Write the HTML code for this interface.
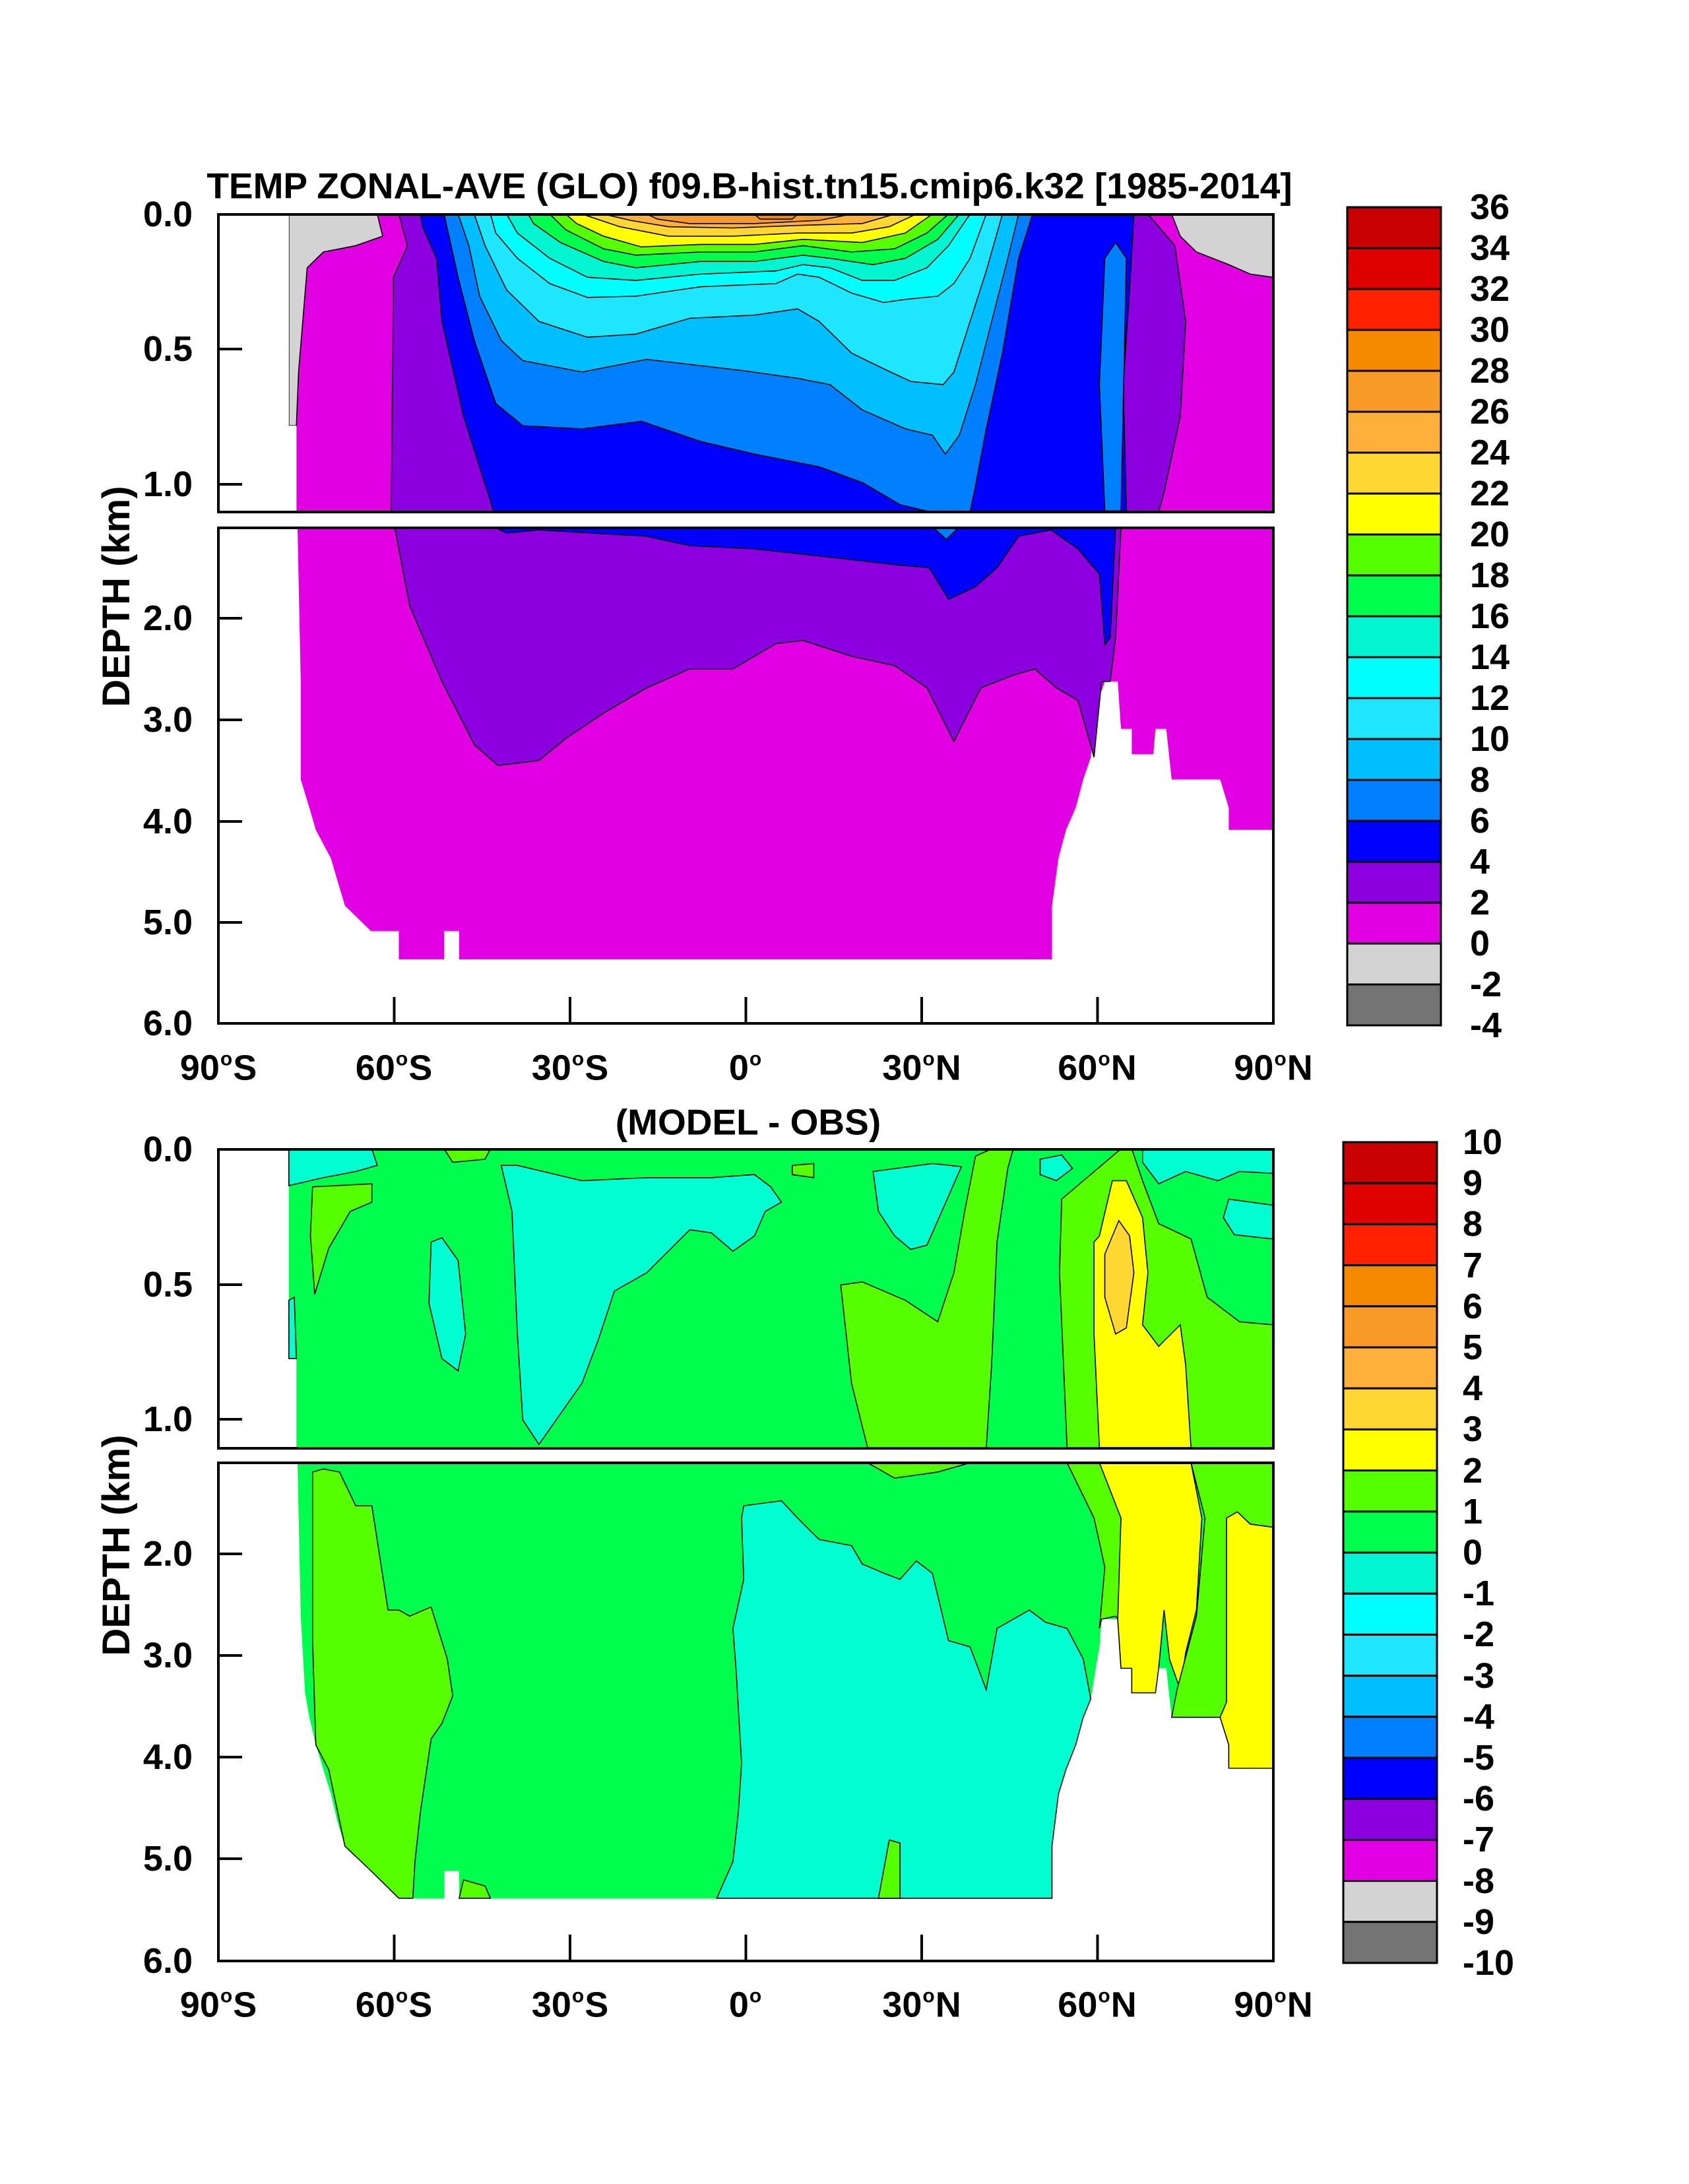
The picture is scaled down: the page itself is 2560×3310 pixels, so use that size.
<!DOCTYPE html>
<html><head><meta charset="utf-8">
<style>
body{margin:0;background:#fff;}
#pg{position:relative;width:2560px;height:3310px;overflow:hidden;background:#fff;font-family:"Liberation Sans",Arial,sans-serif;font-weight:bold;color:#000;}
.t{position:absolute;white-space:nowrap;line-height:1;}
.yl{font-size:54px;width:150px;text-align:right;left:142px;transform:translateY(-50%);}
.xl{font-size:54px;width:240px;text-align:center;transform:translate(-50%,-50%);}
.xl sup{font-size:30px;vertical-align:22px;margin:0 1px;}
.cl{font-size:54px;left:2228px;transform:translateY(-50%);}
.cl2{font-size:54px;left:2217px;transform:translateY(-50%);}
svg{position:absolute;}
</style></head><body><div id="pg">

<!-- TOP PANEL DATA -->
<svg style="left:0;top:200px;width:2560px;height:1500px" viewBox="0 0 1567 1567" preserveAspectRatio="none">
<defs>
<clipPath id="c1"><rect x="202" y="130" width="979" height="471"/></clipPath>
<clipPath id="c2"><rect x="202" y="625" width="979" height="786"/></clipPath>
</defs>
<g clip-path="url(#c1)" stroke="#000" stroke-width="1.6" vector-effect="non-scaling-stroke">
<rect x="275" y="130" width="906" height="471" fill="#e100e1" stroke="none"/>
<path fill="#d3d3d3" vector-effect="non-scaling-stroke" d="M268,130L350,130L355,165L330,180L300,190L285,215L277,380L275,465L268,465Z"/>
<path fill="#d3d3d3" vector-effect="non-scaling-stroke" d="M1087,130L1181,130L1181,230L1160,225L1140,210L1110,190L1095,165Z"/>
<path fill="#8c00e0" vector-effect="non-scaling-stroke" d="M370,130L1065,130L1090,180L1100,300L1095,450L1080,570L1075,601L363,601L365,230L378,180Z"/>
<path fill="#0000ff" vector-effect="non-scaling-stroke" d="M390,130L1052,130L1048,250L1042,400L1045,601L458,601L430,450L410,300L405,200L392,150Z"/>
<path fill="#0080ff" vector-effect="non-scaling-stroke" d="M1025,200L1035,175L1045,200L1040,600L1025,600L1020,400Z"/>
<path fill="#0080ff" vector-effect="non-scaling-stroke" d="M412,130L958,130L945,200L930,350L915,470L905,560L900,601L862,601L835,590L800,555L760,530L700,510L650,490L595,458L540,470L485,465L460,430L440,330L425,230Z"/>
<path fill="#00bfff" vector-effect="non-scaling-stroke" d="M425,130L945,130L935,200L920,300L905,400L890,480L877,510L865,480L840,470L800,440L770,400L740,390L690,378L600,360L540,380L485,362L465,330L445,260L435,180Z"/>
<path fill="#1ee6ff" vector-effect="non-scaling-stroke" d="M440,130L930,130L915,220L900,300L885,380L875,400L845,395L820,375L790,350L760,300L740,280L700,290L640,295L590,320L545,325L500,300L470,250L450,180Z"/>
<path fill="#00ffff" vector-effect="non-scaling-stroke" d="M455,130L915,130L900,200L885,240L870,260L840,265L820,270L790,255L760,230L740,225L720,240L650,245L590,260L545,262L510,240L480,200L460,160Z"/>
<path fill="#00f5d0" vector-effect="non-scaling-stroke" d="M470,130L900,130L880,180L860,215L830,235L800,235L770,215L745,210L720,220L650,225L590,235L545,230L510,200L480,160Z"/>
<path fill="#00ff4c" vector-effect="non-scaling-stroke" d="M490,130L890,130L870,170L840,200L810,210L770,200L745,195L700,205L650,205L590,215L560,205L520,175L495,145Z"/>
<path fill="#55ff00" vector-effect="non-scaling-stroke" d="M510,130L880,130L860,160L830,185L790,190L745,180L700,190L650,190L590,195L560,185L525,155Z"/>
<path fill="#ffff00" vector-effect="non-scaling-stroke" d="M525,130L865,130L840,160L800,175L745,170L700,178L650,178L595,182L560,165L535,145Z"/>
<path fill="#ffd730" vector-effect="non-scaling-stroke" d="M540,130L850,130L825,150L790,160L740,160L680,165L620,165L575,150Z"/>
<path fill="#ffb03a" vector-effect="non-scaling-stroke" d="M560,130L830,130L800,145L740,148L680,152L620,150L585,140Z"/>
<path fill="#fa9a26" vector-effect="non-scaling-stroke" d="M600,130L790,130L760,140L700,145L640,145L610,138Z"/>
<path fill="#f58a00" vector-effect="non-scaling-stroke" d="M700,130L740,130L735,138L705,138Z"/>
<rect x="202" y="130" width="66" height="471" fill="#fff" stroke="none"/>
<rect x="268" y="465" width="7" height="136" fill="#fff" stroke="none"/>
</g>
<g clip-path="url(#c2)" stroke="#000" stroke-width="1.6">
<path fill="#e100e1" stroke="none" d="M276,625L1181,625L1181,1105L1140,1105L1140,1070L1132,1025L1087,1025L1082,945L1072,945L1070,985L1050,985L1050,945L1040,945L1037,870L1025,870L1017,910L1012,990L1005,1025L998,1070L989,1105L982,1150L976,1225L976,1310L426,1310L426,1265L412,1265L412,1310L370,1310L370,1265L344,1265L320,1225L313,1185L307,1150L293,1105L287,1070L279,1025L279,870Z"/>
<path fill="#8c00e0" vector-effect="non-scaling-stroke" d="M366,625L1040,625L1035,800L1030,870L1022,870L1015,990L1000,900L980,880L960,850L940,860L910,880L885,965L860,880L830,845L790,830L745,805L720,810L680,850L640,850L600,880L560,920L525,960L500,995L462,1003L440,970L410,870L380,750Z"/>
<path fill="#0000ff" vector-effect="non-scaling-stroke" d="M458,625L1035,625L1030,800L1025,812L1020,700L1000,660L975,630L945,640L925,690L905,720L880,740L862,690L830,685L780,675L700,660L640,655L600,640L500,630L470,635Z"/>
<path fill="#0080ff" vector-effect="non-scaling-stroke" d="M865,625L890,625L878,645Z"/>
</g>
</svg>

<!-- BOTTOM PANEL DATA -->
<svg style="left:0;top:1650px;width:2560px;height:1450px" viewBox="0 0 1567 1560" preserveAspectRatio="none">
<defs>
<clipPath id="c3"><rect x="202" y="98" width="979" height="488"/></clipPath>
<clipPath id="c4"><rect x="202" y="610" width="979" height="812"/></clipPath>
</defs>
<g clip-path="url(#c3)" stroke="#000" stroke-width="1.6">
<path fill="#00ff4c" stroke="none" d="M268,98L1181,98L1181,586L275,586L275,440L268,440Z"/>
<path fill="#00ffd0" vector-effect="non-scaling-stroke" d="M268,98L345,98L350,125L330,135L300,145L268,158Z"/>
<path fill="#00ffd0" vector-effect="non-scaling-stroke" d="M268,345L273,340L275,440L268,440Z"/>
<path fill="#00ffd0" vector-effect="non-scaling-stroke" d="M465,125L480,125L540,150L600,145L660,145L700,140L715,160L725,185L710,200L700,240L680,265L660,235L640,230L600,300L570,330L555,410L540,480L500,580L485,540L480,400L475,200Z"/>
<path fill="#00ffd0" vector-effect="non-scaling-stroke" d="M400,250L410,243L425,280L432,400L425,460L410,440L398,350Z"/>
<path fill="#00ffd0" vector-effect="non-scaling-stroke" d="M810,135L865,122L892,127L880,175L860,255L845,262L830,240L815,200Z"/>
<path fill="#00ffd0" vector-effect="non-scaling-stroke" d="M1060,98L1181,98L1181,138L1150,135L1130,150L1100,135L1075,155L1060,120Z"/>
<path fill="#00ffd0" vector-effect="non-scaling-stroke" d="M1140,180L1181,190L1181,245L1145,238L1135,210Z"/>
<path fill="#00ffd0" vector-effect="non-scaling-stroke" d="M965,115L985,108L995,130L980,150L965,140Z"/>
<path fill="#55ff00" vector-effect="non-scaling-stroke" d="M290,160L345,155L345,185L325,200L305,260L292,335L288,240Z"/>
<path fill="#55ff00" vector-effect="non-scaling-stroke" d="M412,98L455,98L450,115L420,120Z"/>
<path fill="#55ff00" vector-effect="non-scaling-stroke" d="M735,125L755,122L755,145L735,140Z"/>
<path fill="#55ff00" vector-effect="non-scaling-stroke" d="M780,320L800,315L840,345L870,380L885,300L895,200L905,110L920,98L940,98L935,130L925,250L920,450L915,586L805,586L790,480Z"/>
<path fill="#55ff00" vector-effect="non-scaling-stroke" d="M985,180L1040,98L1050,98L1060,150L1075,220L1105,245L1120,340L1150,380L1181,385L1181,586L990,586L983,300Z"/>
<path fill="#ffff00" vector-effect="non-scaling-stroke" d="M1020,240L1032,150L1045,150L1060,210L1065,300L1060,385L1075,420L1095,385L1100,450L1105,586L1020,586L1015,400L1015,250Z"/>
<path fill="#ffd730" vector-effect="non-scaling-stroke" d="M1025,270L1038,215L1048,240L1052,300L1045,390L1035,400L1025,340Z"/>
</g>
<g clip-path="url(#c4)" stroke="#000" stroke-width="1.6">
<path fill="#00ff4c" stroke="none" d="M276,610L1181,610L1181,1108L1140,1108L1140,1070L1132,1025L1087,1025L1082,945L1072,945L1070,985L1050,985L1050,945L1040,945L1037,865L1022,865L1020,910L1017,940L1012,995L1005,1025L998,1070L989,1110L982,1150L976,1235L976,1320L426,1320L426,1275L412,1275L412,1320L370,1320L344,1275L320,1235L313,1195L307,1150L300,1110L293,1070L287,1025L283,985L279,860Z"/>
<path fill="#55ff00" vector-effect="non-scaling-stroke" d="M290,625L300,620L315,625L330,680L345,680L360,850L370,850L380,860L400,845L415,930L420,990L410,1035L400,1060L390,1180L385,1260L383,1320L370,1320L344,1275L320,1235L305,1110L293,1070L290,900Z"/>
<path fill="#00ffd0" vector-effect="non-scaling-stroke" d="M690,680L725,672L740,700L760,735L790,745L800,775L820,790L835,800L850,770L865,790L880,900L900,910L915,980L925,880L955,850L970,870L990,880L1005,930L1012,995L1005,1025L998,1070L989,1110L982,1150L976,1235L976,1320L665,1320L680,1260L685,1180L688,1100L683,950L680,880L690,800L688,700Z"/>
<path fill="#55ff00" vector-effect="non-scaling-stroke" d="M815,1320L825,1225L835,1230L835,1320Z"/>
<path fill="#55ff00" vector-effect="non-scaling-stroke" d="M990,610L1025,610L1040,700L1040,870L1035,860L1022,865L1020,880L1025,780L1015,700Z"/>
<path fill="#ffff00" vector-effect="non-scaling-stroke" d="M1020,610L1105,610L1115,700L1110,850L1100,920L1095,980L1085,930L1080,850L1075,945L1072,985L1050,985L1050,945L1040,945L1037,865L1040,700Z"/>
<path fill="#55ff00" vector-effect="non-scaling-stroke" d="M1105,610L1181,610L1181,715L1160,710L1148,690L1138,700L1138,1020L1132,1025L1087,1025L1092,980L1110,860L1118,700Z"/>
<path fill="#ffff00" vector-effect="non-scaling-stroke" d="M1138,700L1148,690L1160,710L1181,715L1181,1108L1140,1108L1140,1070L1132,1025L1138,1000Z"/>
<path fill="#55ff00" vector-effect="non-scaling-stroke" d="M426,1320L430,1290L450,1300L455,1320Z"/>
<path fill="#55ff00" vector-effect="non-scaling-stroke" d="M805,610L900,610L870,625L830,635Z"/>
</g>
</svg>

<!-- FRAMES, TICKS, COLORBARS (pixel coords) -->
<svg style="left:0;top:0;width:2560px;height:3310px" viewBox="0 0 2560 3310">
<g fill="none" stroke="#000" stroke-width="4">
<rect x="331" y="325" width="1599" height="451"/>
<rect x="331" y="800" width="1599" height="751"/>
<rect x="331" y="1742" width="1599" height="453"/>
<rect x="331" y="2217" width="1599" height="755"/>
</g>
<g stroke="#000" stroke-width="4">
<path d="M331,325h36M331,529h36M331,734h36M331,937h36M331,1091h36M331,1245h36M331,1398h36M331,1551h36"/>
<path d="M597.5,1551v-40M864,1551v-40M1130.5,1551v-40M1397,1551v-40M1663.5,1551v-40"/>
<path d="M331,1742h36M331,1947h36M331,2151h36M331,2355h36M331,2509h36M331,2663h36M331,2817h36M331,2972h36"/>
<path d="M597.5,2972v-40M864,2972v-40M1130.5,2972v-40M1397,2972v-40M1663.5,2972v-40"/>
</g>
<g stroke="#000" stroke-width="3">
<rect x="2042" y="314" width="142" height="62" fill="#c80000"/>
<rect x="2042" y="376" width="142" height="62" fill="#e00000"/>
<rect x="2042" y="438" width="142" height="62" fill="#ff2000"/>
<rect x="2042" y="500" width="142" height="62" fill="#f58a00"/>
<rect x="2042" y="562" width="142" height="62" fill="#fa9a26"/>
<rect x="2042" y="624" width="142" height="62" fill="#ffb03a"/>
<rect x="2042" y="686" width="142" height="62" fill="#ffd730"/>
<rect x="2042" y="748" width="142" height="62" fill="#ffff00"/>
<rect x="2042" y="810" width="142" height="62" fill="#55ff00"/>
<rect x="2042" y="872" width="142" height="62" fill="#00ff4c"/>
<rect x="2042" y="934" width="142" height="62" fill="#00f5d0"/>
<rect x="2042" y="996" width="142" height="62" fill="#00ffff"/>
<rect x="2042" y="1058" width="142" height="62" fill="#1ee6ff"/>
<rect x="2042" y="1120" width="142" height="62" fill="#00bfff"/>
<rect x="2042" y="1182" width="142" height="62" fill="#0080ff"/>
<rect x="2042" y="1244" width="142" height="62" fill="#0000ff"/>
<rect x="2042" y="1306" width="142" height="62" fill="#8c00e0"/>
<rect x="2042" y="1368" width="142" height="62" fill="#e100e1"/>
<rect x="2042" y="1430" width="142" height="62" fill="#d3d3d3"/>
<rect x="2042" y="1492" width="142" height="62" fill="#737373"/>
</g>
<g stroke="#000" stroke-width="3">
<rect x="2036" y="1731" width="142" height="62.2" fill="#c80000"/>
<rect x="2036" y="1793.2" width="142" height="62.2" fill="#e00000"/>
<rect x="2036" y="1855.4" width="142" height="62.2" fill="#ff2000"/>
<rect x="2036" y="1917.6" width="142" height="62.2" fill="#f58a00"/>
<rect x="2036" y="1979.8" width="142" height="62.2" fill="#fa9a26"/>
<rect x="2036" y="2042" width="142" height="62.2" fill="#ffb03a"/>
<rect x="2036" y="2104.2" width="142" height="62.2" fill="#ffd730"/>
<rect x="2036" y="2166.4" width="142" height="62.2" fill="#ffff00"/>
<rect x="2036" y="2228.6" width="142" height="62.2" fill="#55ff00"/>
<rect x="2036" y="2290.8" width="142" height="62.2" fill="#00ff4c"/>
<rect x="2036" y="2353" width="142" height="62.2" fill="#00f5d0"/>
<rect x="2036" y="2415.2" width="142" height="62.2" fill="#00ffff"/>
<rect x="2036" y="2477.4" width="142" height="62.2" fill="#1ee6ff"/>
<rect x="2036" y="2539.6" width="142" height="62.2" fill="#00bfff"/>
<rect x="2036" y="2601.8" width="142" height="62.2" fill="#0080ff"/>
<rect x="2036" y="2664" width="142" height="62.2" fill="#0000ff"/>
<rect x="2036" y="2726.2" width="142" height="62.2" fill="#8c00e0"/>
<rect x="2036" y="2788.4" width="142" height="62.2" fill="#e100e1"/>
<rect x="2036" y="2850.6" width="142" height="62.2" fill="#d3d3d3"/>
<rect x="2036" y="2912.8" width="142" height="62.2" fill="#737373"/>
</g>
</svg>

<!-- TEXT -->
<div class="t" style="left:1136px;top:282px;font-size:55px;transform:translate(-50%,-50%)">TEMP ZONAL-AVE (GLO) f09.B-hist.tn15.cmip6.k32 [1985-2014]</div>
<div class="t" style="left:1134px;top:1701px;font-size:55px;transform:translate(-50%,-50%)">(MODEL - OBS)</div>
<div class="t" style="left:177px;top:904px;font-size:58px;transform:translate(-50%,-50%) rotate(-90deg)">DEPTH (km)</div>
<div class="t" style="left:177px;top:2342px;font-size:58px;transform:translate(-50%,-50%) rotate(-90deg)">DEPTH (km)</div>

<div class="t yl" style="top:325px">0.0</div>
<div class="t yl" style="top:529px">0.5</div>
<div class="t yl" style="top:734px">1.0</div>
<div class="t yl" style="top:937px">2.0</div>
<div class="t yl" style="top:1091px">3.0</div>
<div class="t yl" style="top:1245px">4.0</div>
<div class="t yl" style="top:1398px">5.0</div>
<div class="t yl" style="top:1551px">6.0</div>

<div class="t yl" style="top:1742px">0.0</div>
<div class="t yl" style="top:1947px">0.5</div>
<div class="t yl" style="top:2151px">1.0</div>
<div class="t yl" style="top:2355px">2.0</div>
<div class="t yl" style="top:2509px">3.0</div>
<div class="t yl" style="top:2663px">4.0</div>
<div class="t yl" style="top:2817px">5.0</div>
<div class="t yl" style="top:2972px">6.0</div>

<div class="t xl" style="left:331px;top:1618px">90<sup>o</sup>S</div>
<div class="t xl" style="left:597px;top:1618px">60<sup>o</sup>S</div>
<div class="t xl" style="left:864px;top:1618px">30<sup>o</sup>S</div>
<div class="t xl" style="left:1130px;top:1618px">0<sup>o</sup></div>
<div class="t xl" style="left:1397px;top:1618px">30<sup>o</sup>N</div>
<div class="t xl" style="left:1663px;top:1618px">60<sup>o</sup>N</div>
<div class="t xl" style="left:1930px;top:1618px">90<sup>o</sup>N</div>

<div class="t xl" style="left:331px;top:3038px">90<sup>o</sup>S</div>
<div class="t xl" style="left:597px;top:3038px">60<sup>o</sup>S</div>
<div class="t xl" style="left:864px;top:3038px">30<sup>o</sup>S</div>
<div class="t xl" style="left:1130px;top:3038px">0<sup>o</sup></div>
<div class="t xl" style="left:1397px;top:3038px">30<sup>o</sup>N</div>
<div class="t xl" style="left:1663px;top:3038px">60<sup>o</sup>N</div>
<div class="t xl" style="left:1930px;top:3038px">90<sup>o</sup>N</div>

<div class="t cl" style="top:314px">36</div>
<div class="t cl" style="top:376px">34</div>
<div class="t cl" style="top:438px">32</div>
<div class="t cl" style="top:500px">30</div>
<div class="t cl" style="top:562px">28</div>
<div class="t cl" style="top:624px">26</div>
<div class="t cl" style="top:686px">24</div>
<div class="t cl" style="top:748px">22</div>
<div class="t cl" style="top:810px">20</div>
<div class="t cl" style="top:872px">18</div>
<div class="t cl" style="top:934px">16</div>
<div class="t cl" style="top:996px">14</div>
<div class="t cl" style="top:1058px">12</div>
<div class="t cl" style="top:1120px">10</div>
<div class="t cl" style="top:1182px">8</div>
<div class="t cl" style="top:1244px">6</div>
<div class="t cl" style="top:1306px">4</div>
<div class="t cl" style="top:1368px">2</div>
<div class="t cl" style="top:1430px">0</div>
<div class="t cl" style="top:1492px">-2</div>
<div class="t cl" style="top:1554px">-4</div>

<div class="t cl2" style="top:1731px">10</div>
<div class="t cl2" style="top:1793px">9</div>
<div class="t cl2" style="top:1855px">8</div>
<div class="t cl2" style="top:1918px">7</div>
<div class="t cl2" style="top:1980px">6</div>
<div class="t cl2" style="top:2042px">5</div>
<div class="t cl2" style="top:2104px">4</div>
<div class="t cl2" style="top:2166px">3</div>
<div class="t cl2" style="top:2229px">2</div>
<div class="t cl2" style="top:2291px">1</div>
<div class="t cl2" style="top:2353px">0</div>
<div class="t cl2" style="top:2415px">-1</div>
<div class="t cl2" style="top:2477px">-2</div>
<div class="t cl2" style="top:2540px">-3</div>
<div class="t cl2" style="top:2602px">-4</div>
<div class="t cl2" style="top:2664px">-5</div>
<div class="t cl2" style="top:2726px">-6</div>
<div class="t cl2" style="top:2788px">-7</div>
<div class="t cl2" style="top:2851px">-8</div>
<div class="t cl2" style="top:2913px">-9</div>
<div class="t cl2" style="top:2975px">-10</div>

</div></body></html>
